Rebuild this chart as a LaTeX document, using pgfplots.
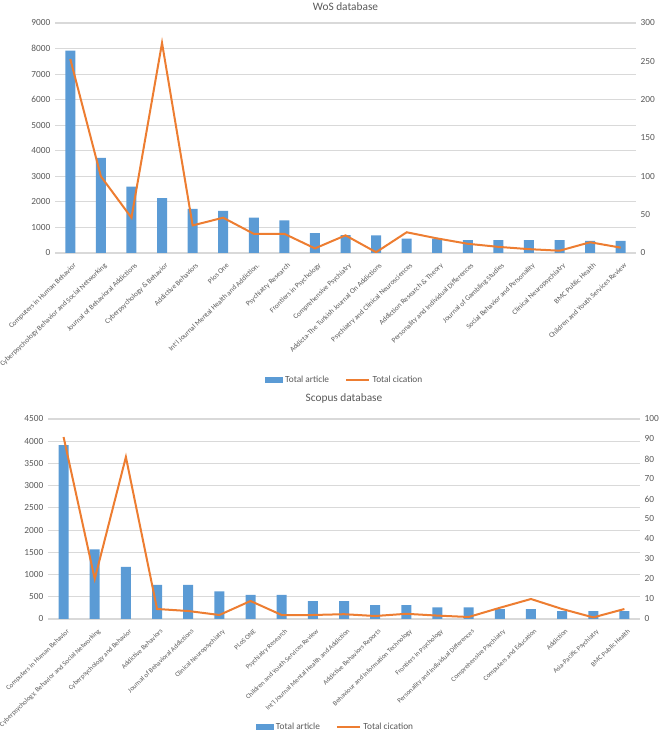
\documentclass[border=0pt]{standalone}
\usepackage{fontspec}
\setmainfont{Carlito}
\usepackage{pgfplots}
\pgfplotsset{compat=1.18}
\definecolor{xlblue}{HTML}{5B9BD5}
\definecolor{xlorange}{HTML}{ED7D31}
\definecolor{xlgray}{HTML}{595959}
\definecolor{xlgrid}{HTML}{D9D9D9}
\begin{document}
\begin{tikzpicture}
\pgfplotsset{
  base/.style={scale only axis, xmin=-0.5, xmax=18.5, ymin=0,
    enlargelimits=false, major tick length=0pt,
    /pgf/number format/assume math mode=true, /pgf/number format/1000 sep={},
    tick label style={font=\fontsize{7}{8}\selectfont, text=xlgray},
    axis line style={draw=none}, ticklabel pos=left},
  leftax/.style={base, ybar, bar width=7.5pt, xtick={0,...,18},
    ymajorgrids, grid style={xlgrid, line width=0.8pt},
    xticklabel style={rotate=44, anchor=north east, yshift=-3pt},
    title style={font=\fontsize{8.5}{9}\selectfont, text=xlgray, at={(0.5,1)}, anchor=center}},
  rightax/.style={base, axis y line*=right, axis x line=none, xtick=\empty,
    y axis line style={draw=none},
    legend style={draw=none, anchor=center, legend columns=2,
      font=\fontsize{7}{8}\selectfont, text=xlgray,
      /tikz/every even column/.append style={column sep=10pt}}},
  barleg/.style={legend image code/.code={\fill[xlblue] (0cm,-0.07cm) rectangle (0.45cm,0.07cm);}},
}
\useasboundingbox (0,0) rectangle (495pt,550.5pt);

% WoS
\begin{axis}[leftax, width=435.75pt, height=172.5pt, at={(41.25pt,360.75pt)}, anchor=south west,
  ymax=9000, ytick={0,1000,...,9000}, title={WoS database}, title style={yshift=6pt},
  xticklabel style={font=\fontsize{5.45}{6}\selectfont},
  xticklabels={Computers in Human Behavior, Cyberpsychology Behavior and Social Networking,
    Journal of Behavioral Addictions, Cyberpsychology \& Behavior, Addictive Behaviors, Plos One,
    Int'l Journal Mental Health and Addiction., Psychiatry Research, Frontiers in Psychology,
    Comprehensive Psychiatry, Addicta-The Turkish Journal On Addictions,
    Psychiatry and Clinical Neurosciences, Addiction Research \& Theory,
    Personality and Individual Differences, Journal of Gambling Studies,
    Social Behavior and Personality, Clinical Neuropsychiatry, BMC Public Health,
    Children and Youth Services Review}]
  \addplot[fill=xlblue, draw=none] coordinates {(0,7920) (1,3720) (2,2600) (3,2150) (4,1730)
    (5,1650) (6,1380) (7,1280) (8,780) (9,700) (10,690) (11,560) (12,560) (13,500) (14,500)
    (15,500) (16,500) (17,470) (18,470)};
\end{axis}
\begin{axis}[rightax, width=435.75pt, height=172.5pt, at={(41.25pt,360.75pt)}, anchor=south west,
  ymax=300, ytick={0,50,...,300}, legend style={at={(0.499,-0.552)}}]
  \addlegendimage{barleg}
  \addlegendentry{Total article}
  \addplot[xlorange, line width=1.5pt, no marks] coordinates {(0,253) (1,100) (2,46) (3,274)
    (4,36) (5,46) (6,25) (7,25) (8,6) (9,23) (10,1) (11,27) (12,19) (13,12) (14,8) (15,5)
    (16,3) (17,14) (18,7)};
  \addlegendentry{Total cication}
\end{axis}

% Scopus
\begin{axis}[leftax, width=444pt, height=150pt, at={(36pt,86.25pt)}, anchor=south west,
  ymax=4500, ytick={0,500,...,4500}, title={Scopus database}, title style={yshift=9.75pt},
  xticklabel style={font=\fontsize{5.1}{6}\selectfont},
  xticklabels={Computers in Human Behavior, {Cyberpsychology, Behavior and Social Networking},
    Cyberpsychology and Behavior, Addictive Behaviors, Journal of Behavioral Addictions,
    Clinical Neuropsychiatry, PLoS ONE, Psychiatry Research, Children and Youth Services Review,
    Int'l Journal Mental Health and Addiction, Addictive Behaviors Reports,
    Behaviour and Information Technology, Frontiers in Psychology,
    Personality and Individual Differences, Comprehensive Psychiatry, Computers and Education,
    Addiction, Asia-Pacific Psychiatry, BMC Public Health}]
  \addplot[fill=xlblue, draw=none] coordinates {(0,3910) (1,1565) (2,1170) (3,770) (4,770)
    (5,620) (6,540) (7,540) (8,400) (9,400) (10,310) (11,310) (12,260) (13,260) (14,220)
    (15,220) (16,175) (17,175) (18,175)};
\end{axis}
\begin{axis}[rightax, width=444pt, height=150pt, at={(36pt,86.25pt)}, anchor=south west,
  ymax=100, ytick={0,10,...,100}, legend style={at={(0.486,-0.54)}}]
  \addlegendimage{barleg}
  \addlegendentry{Total article}
  \addplot[xlorange, line width=1.5pt, no marks] coordinates {(0,91) (1,20) (2,81) (3,5) (4,4)
    (5,2) (6,9) (7,2) (8,2) (9,2.4) (10,1.5) (11,2.6) (12,1.7) (13,1) (14,5.6) (15,10) (16,5)
    (17,0.8) (18,5)};
  \addlegendentry{Total cication}
\end{axis}
\end{tikzpicture}
\end{document}
